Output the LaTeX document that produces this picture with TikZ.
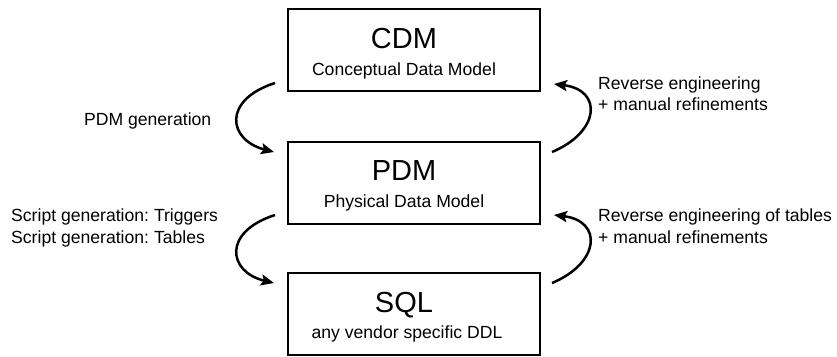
\documentclass[tikz,border=0pt]{standalone}
\usepackage{fontspec}
\setmainfont{Liberation Sans}
\usetikzlibrary{arrows.meta,calc}
\frenchspacing
\begin{document}
\begin{tikzpicture}[x=1pt,y=-1pt,
  box/.style={draw=black,line width=2pt,minimum width=252pt,minimum height=82pt,inner sep=0pt,anchor=north west},
  title/.style={anchor=base,inner sep=0pt,font=\fontsize{29}{34}\selectfont},
  sub/.style={anchor=base,inner sep=0pt,font=\fontsize{17.6}{21}\selectfont},
  lbl/.style={inner sep=0pt,align=left,font=\fontsize{17.6}{21.5}\selectfont},
  flow/.style={line width=2.5pt,-{Stealth[length=13pt,width=11pt,inset=2.5pt]}}]
\useasboundingbox (0,0) rectangle (837,356);
\node[box] (cdm) at (287,8) {};
\node[box] (pdm) at (287,141) {};
\node[box] (sql) at (287,272) {};
\node[title] (cdmt) at (404,48.3) {CDM};
\node[sub] (cdms) at (404,75) {Conceptual Data Model};
\node[title] (pdmt) at (404,180) {PDM};
\node[sub] (pdms) at (404,207) {Physical Data Model};
\node[title] (sqlt) at (404,312) {SQL};
\node[sub] (sqls) at (407,338.5) {any vendor specific DDL};
% connectors
\draw[flow] ($(cdm.south west)+(-12,-9)$) .. controls (222,100) and (228,140) .. ($(pdm.north west)+(-13,11)$);
\draw[flow] ($(pdm.north east)+(11,11)$) .. controls (600,132) and (603,90) .. ($(cdm.south east)+(13,-8)$);
\draw[flow] ($(pdm.south west)+(-12,-10)$) .. controls (222,232) and (228,272) .. ($(sql.north west)+(-13,11)$);
\draw[flow] ($(sql.north east)+(11,11)$) .. controls (600,263) and (603,221) .. ($(pdm.south east)+(13,-10)$);
% labels
\node[lbl,anchor=base east] (l1) at (211.5,125.7) {PDM generation};
\node[lbl,anchor=base west] (l2) at (598,110.5) {Reverse engineering\\+ manual refinements};
\node[lbl,anchor=base west] (l3) at (11,243) {Script generation: Triggers\\Script generation: Tables};
\node[lbl,anchor=base west] (l4) at (598,243) {Reverse engineering of tables\\+ manual refinements};
\end{tikzpicture}
\end{document}
